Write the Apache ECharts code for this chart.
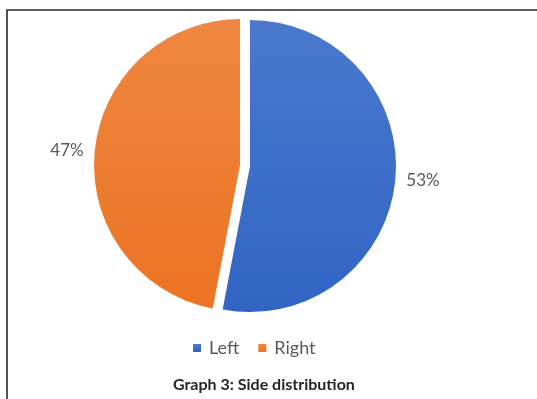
<!DOCTYPE html>
<html>
<head>
<meta charset="utf-8">
<script src="https://cdn.jsdelivr.net/npm/echarts@6/dist/echarts.min.js"></script>
<style>
  html, body { margin: 0; padding: 0; background: #ffffff; }
  #chart { width: 537px; height: 399px; }
</style>
</head>
<body>
<div id="chart"></div>
<script>
// Side distribution values (percent)
const categories = ['Left', 'Right'];
const shares = [53, 47];
const explodedSide = 'Right';

const sliceColors = {
  Left: ['#4a79cd', '#3165c4'],
  Right: ['#ef8742', '#ec7322']
};

function vGradient(pair) {
  return new echarts.graphic.LinearGradient(0, 0, 0, 1, [
    { offset: 0, color: pair[0] },
    { offset: 1, color: pair[1] }
  ]);
}

const pieData = categories.map((name, i) => ({
  name: name,
  value: shares[i],
  selected: name === explodedSide,
  itemStyle: { color: vGradient(sliceColors[name]) }
}));

const chart = echarts.init(document.getElementById('chart'), null, { renderer: 'canvas' });

chart.setOption({
  animation: false,
  backgroundColor: '#ffffff',
  color: ['#3f6fca', '#ee7b2c'],
  title: {
    text: 'Graph 3: Side distribution',
    left: 173,
    top: 377,
    padding: 0,
    textStyle: {
      fontFamily: 'Lato',
      fontWeight: 'bold',
      fontSize: 16,
      color: '#262626'
    }
  },
  legend: {
    data: categories,
    left: 193,
    top: 339,
    icon: 'rect',
    itemWidth: 8,
    itemHeight: 8,
    itemGap: 19,
    padding: 0,
    textStyle: {
      fontFamily: 'Lato',
      fontSize: 18,
      color: '#595959',
      padding: [0, 0, 0, 3]
    }
  },
  graphic: [{
    type: 'rect',
    shape: { x: 7, y: 10, width: 560, height: 420 },
    style: { fill: 'none', stroke: '#2a2a2a', lineWidth: 1.6 },
    silent: true,
    z: 100
  }],
  series: [{
    type: 'pie',
    center: [250, 166],
    radius: 146,
    startAngle: 90,
    clockwise: true,
    selectedMode: 'single',
    selectedOffset: 10,
    avoidLabelOverlap: false,
    emphasis: { disabled: true },
    data: pieData,
    label: {
      show: true,
      position: 'outside',
      formatter: '{c}%',
      fontFamily: 'Lato',
      fontSize: 17,
      color: '#595959',
      distanceToLabelLine: 5
    },
    labelLine: { show: false, length: 4, length2: 2 }
  }]
});
</script>
</body>
</html>
